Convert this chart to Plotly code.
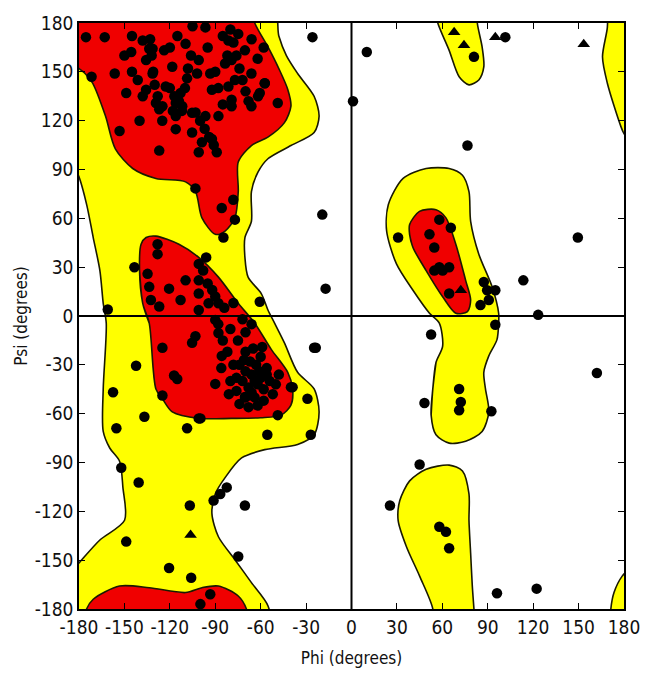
import plotly.graph_objects as go

# ---------------- region boundaries (phi, psi in degrees) ----------------
yellow_left_phi = [-190, -52, -48, -43, -35.6, -24.7, -21.4, -24.7, -40, -55.2, -61.7, -66.1, -66.1, -70.4, -70.4, -68.3, -59.6, -55.2, -50.8, -44.3, -35.6, -24.7, -21.4, -24.7, -35.6, -57.3, -72.6, -83.5, -90, -92.2, -87.9, -77, -66.1, -55.2, -54, -190, -190, -180, -166.2, -149.9, -151, -153.2, -159.7, -164, -164, -162, -164, -166.2, -170.6, -174.9, -180, -190]
yellow_left_psi = [190, 190, 172, 160, 149, 135, 122.8, 112.7, 104.7, 96.6, 88.5, 76.4, 58.2, 48.2, 36, 23.9, 13.8, 3.7, -4.4, -16.5, -34.6, -44.8, -58.9, -73, -79, -82.1, -87.2, -99.3, -109.3, -121.4, -135.6, -149.7, -163.8, -178, -190, -190, -162, -151.7, -137.6, -125.5, -105.3, -89.2, -81.1, -70.9, -44.8, -4.4, 7.8, 27.9, 48.2, 68.3, 85.5, 105]

red_beta_phi = [-190, -66, -63.9, -55, -48, -42.1, -40, -44.3, -55, -66.1, -74.8, -74.8, -77, -83.5, -90, -98.8, -103, -109.6, -129.2, -144.5, -156, -162.5, -171, -176, -180, -190]
red_beta_psi = [190, 190, 180, 165, 152, 139.2, 128.9, 118.8, 110, 104.7, 94.6, 76.4, 60.3, 52.2, 50.2, 60.3, 76.4, 82.4, 84.5, 90.6, 102.7, 122.8, 143, 149, 152, 160]

red_alpha_phi = [-133.6, -137.9, -140, -139, -135.7, -129.2, -114, -100.9, -87.9, -74.8, -63.9, -53, -42.1, -38.9, -40, -46.5, -60, -79.2, -100.9, -118.4, -124.9, -129.2]
red_alpha_psi = [-4.4, 7.8, 27.9, 44.1, 48.2, 49.1, 44.1, 36, 23.9, 7.8, -4.4, -20.5, -34.6, -44.8, -54.8, -60.9, -62.5, -62.9, -62.9, -58.9, -50.8, -44.8]

red_bottom_phi = [-177, -175, -170.6, -153.2, -133.6, -109.6, -98.8, -87.9, -74.8, -69.4, -68]
red_bottom_psi = [-190, -180, -174, -165.9, -166.9, -169.9, -166.9, -165.9, -172, -180, -190]

yellow_top_phi = [55, 57, 64.5, 71.1, 77.6, 84.1, 87.4, 86.3, 83.1, 83]
yellow_top_psi = [190, 180, 163.2, 147, 142, 145, 153, 165.2, 180, 190]

yellow_low_phi = [81, 53, 53.7, 45, 36.3, 30.8, 31.9, 38.4, 49.3, 64.5, 73.3, 77.6, 77.6, 78.7, 79.8, 80.9]
yellow_low_psi = [-190, -190, -180, -159.8, -141.7, -125.5, -113.4, -101.3, -94.2, -91.6, -95.2, -109.3, -125.5, -145.7, -165.9, -180]

yellow_lh_phi = [55.8, 53.7, 52.6, 55.8, 64.5, 75.4, 86.3, 90.7, 88.5, 87.4, 90.7, 96.1, 97.2, 97.2, 92.9, 84.1, 78.7, 77.6, 73.3, 64.5, 49.3, 34.1, 24.3, 23.2, 29.7, 40.6, 51.5, 58, 60.2]
yellow_lh_psi = [-28.6, -44.8, -60.9, -73, -78.1, -77, -71, -58.9, -44.8, -34.6, -24.5, -14.5, -4.4, 1.7, 17.9, 38, 58.2, 76.4, 86.5, 90.6, 90.6, 84.5, 68.3, 52.2, 32, 15.8, 1.7, -4.4, -18.5]

red_lh_phi = [49.3, 40.6, 38.4, 38.4, 44.9, 55.8, 62.4, 68.9, 75.4, 78.7, 76.6, 68.9, 60.2]
red_lh_psi = [27.9, 42.1, 50, 56.2, 64.3, 65.3, 60.3, 44.1, 21.9, 9.8, 2.7, 1.7, 11.8]

yellow_rtop_phi = [169, 169, 165.8, 169, 177.8, 180, 190, 190]
yellow_rtop_psi = [190, 177.3, 159.2, 143, 116.8, 112, 100, 190]

yellow_rbot_phi = [190, 178.8, 173.4, 171.3, 171, 190]
yellow_rbot_psi = [-150, -159.8, -169.9, -180, -190, -190]

# ---------------- residues ----------------
res_phi = [
    # beta region
    -175.4, -163, -171.7, -156.4, -148.8, -145.5, -137.9, -135.7, -141.2, -135.7, -131.4, -123.8, -118.4, -124.9,
    -116.1, -112.9, -109.6, -108.6, -102, -100.9, -96.5, -93.3, -81.3, -79.2, -74.8, -70.4, -77, -66.1, -61.7,
    -57.3, -48.7, -66.1, -79.2, -96.5, -87.9, -105.3, -116.1, -105.3, -98.8, -92.2, -89, -100.9, -127, -153.2,
    -137.9, -129.2, -122.7, -111.8, -116.1, -133.6, -131.4, -83.5, -81.3, -79.2, -92.2, -103.1, -85.7, -78.1,
    -77, -84.6, -60.6, -57.3,
    -133, -132, -131, -130, -128, -127, -125, -120, -117, -114, -112, -118, -110, -108, -106,
    -80, -78, -76, -74, -72, -70, -68, -85, -82, -100, -97, -94, -91, -103,
    -145, -150, -140, -120, -115, -95, -90, -88, -85, -62, -58, -66, -145, -105,
    # alpha region
    -128.1, -128.1, -143.4, -134.7, -133.6, -132.5, -127, -120.5, -112.9, -109.6, -100.9, -100.9, -100.9, -100.9,
    -94.4, -87.9, -90, -87.9, -103.1, -105.3, -124.9, -142.3, -117.2, -115.1, -90, -85.7, -124.9, -100.9, -136.8,
    -60.6, -38.9, -29.1, -48.7,
    -64, -62, -60, -66, -68, -58, -63, -67, -70, -72, -56, -60, -65, -70, -74, -76, -54, -52, -58, -64, -70, -76,
    -80, -78, -82, -75, -70, -66, -72, -80, -85, -88, -84, -78, -90, -95, -98, -96, -92, -62, -68, -74, -56, -50,
    -48, -61, -66, -71, -59, -81, -86,
    # lower left
    -157.5, -155.3, -108.6, -99.8, -70.4, -40, -55.6, -26.9, -23.6, -152.1, -140.6, -106.8, -91.1, -86.7, -82.4,
    -70.4, -148.8, -74.8, -120.5, -105.9, -93.3, -99.8, -161,
    # white / right side
    -25.8, -19.3, -17.1, -24.7,
    101.6, 80.9, 10.1, 1, 76.6, 149.5, 30.8, 58, 65.6, 51.5, 54.7, 58, 60.2, 64.5, 54.7, 64.5, 87.4, 89.6, 95,
    85.2, 90.7, 113.5, 123.3, 95, 52.6, 162.1, 48.2, 71.1, 72.2, 71.1, 92.4, 45, 25.4, 58, 62.4, 64.5, 96.1, 122.3,
]
res_psi = [
    171.3, 171.3, 147, 149, 137, 162.2, 169.3, 157.2, 145, 139, 149, 163.2, 153.1, 128.9,
    130.9, 137, 167.2, 146, 149, 157.2, 177.3, 149, 169.3, 157.2, 173.3, 163.2, 145, 149, 135,
    143, 130.9, 128.9, 128.9, 122.8, 122.8, 124.8, 114.8, 112.7, 106.7, 108.7, 100.6, 100.6, 101.6, 113.7,
    135, 130.9, 141, 128.9, 122.8, 164.2, 164.2, 155.1, 141, 132.9, 139, 78.4, 66.3, 71.4,
    59.2, 48.2, 137, 143,
    170, 160, 150, 142, 135, 127, 120, 140, 135, 132, 126, 126, 140, 152, 160,
    176, 168, 160, 152, 145, 138, 132, 172, 160, 120, 115, 110, 105, 125,
    150, 160, 120, 165, 172, 165, 150, 140, 130, 158, 165, 170, 172, 178,
    44.1, 38, 30, 25.9, 17.9, 9.8, 5.8, 16.8, 9.8, 21.9, 32, 21.9, 13.8, 3.7,
    7.8, 7.8, -2.4, -10.4, -12.4, -16.5, -19.5, -30.6, -36.6, -38.7, -41.7, -24.5, -48.8, -62.9, -61.9,
    8.8, -43.7, -50.8, -60.9,
    -40, -42, -38, -36, -44, -45, -30, -28, -34, -40, -32, -25, -20, -22, -30, -38, -40, -48, -52, -50, -50, -46,
    -40, -30, -22, -15, -10, -5, -2, -8, -15, -5, 5, 8, 12, 20, 28, 36, 16, -55, -56, -54, -36, -42,
    -36, -34, -47, -27, -19, -48, -32,
    -46.8, -69, -69, -62.9, -49.8, -43.7, -73, -73, -19.5, -93.2, -102.3, -116.4, -113.4, -109.3, -105.3,
    -116.4, -138.6, -147.7, -154.8, -160.8, -170.9, -177, 4,
    171.3, 62.3, 16.8, -19.5,
    171.3, 159.2, 162.2, 131.9, 104.7, 48.2, 48.2, 59.2, 54.2, 50.2, 42.1, 30, 27.9, 30, 27.9, 13.8, 20.9, 15.8, 15.8,
    6.7, 9.8, 21.9, 0.7, -5.4, -11.4, -35, -53.4, -44.8, -52.8, -57.9, -58.5, -91.2, -116.4, -129.5, -132.6, -142.7, -170.3, -167.5,
]

gly_phi = [67.8, 74.3, 95, 153.4, -106.3, 72.2]
gly_psi = [174.3, 166.3, 171.3, 166.9, -134.6, 15.8]

axis_ticks = [-180, -150, -120, -90, -60, -30, 0, 30, 60, 90, 120, 150, 180]

fig = go.Figure()

def region(xs, ys, color, closed_inside=False):
    # for regions fully inside the plot, wrap the first points round so the
    # smoothed outline closes without a kink
    if closed_inside:
        xs = list(xs) + list(xs[:3])
        ys = list(ys) + list(ys[:3])
    fig.add_trace(go.Scatter(
        x=xs, y=ys, mode="lines", fill="toself", fillcolor=color,
        line=dict(color="#1a1a00", width=1.6, shape="spline", smoothing=0.8),
        hoverinfo="skip", showlegend=False))

region(yellow_left_phi, yellow_left_psi, "#ffff00")
region(yellow_top_phi, yellow_top_psi, "#ffff00")
region(yellow_low_phi, yellow_low_psi, "#ffff00")
region(yellow_lh_phi, yellow_lh_psi, "#ffff00", closed_inside=True)
region(yellow_rtop_phi, yellow_rtop_psi, "#ffff00")
region(yellow_rbot_phi, yellow_rbot_psi, "#ffff00")
region(red_beta_phi, red_beta_psi, "#f00000")
region(red_alpha_phi, red_alpha_psi, "#f00000", closed_inside=True)
region(red_bottom_phi, red_bottom_psi, "#f00000")
region(red_lh_phi, red_lh_psi, "#f00000", closed_inside=True)

# zero lines
fig.add_trace(go.Scatter(x=[axis_ticks[0], axis_ticks[-1]], y=[0, 0], mode="lines",
                         line=dict(color="black", width=2), hoverinfo="skip", showlegend=False))
fig.add_trace(go.Scatter(x=[0, 0], y=[axis_ticks[0], axis_ticks[-1]], mode="lines",
                         line=dict(color="black", width=2), hoverinfo="skip", showlegend=False))

fig.add_trace(go.Scatter(x=res_phi, y=res_psi, mode="markers",
                         marker=dict(symbol="circle", size=10.5, color="black"), showlegend=False))
fig.add_trace(go.Scatter(x=gly_phi, y=gly_psi, mode="markers",
                         marker=dict(symbol="triangle-up", size=11, color="black"), showlegend=False))

font_family = "Liberation Sans Narrow, DejaVu Sans Condensed, Liberation Sans, sans-serif"
axis_common = dict(
    range=[-180, 180], tickvals=axis_ticks, ticktext=[str(t) for t in axis_ticks],
    ticks="inside", ticklen=6, tickcolor="black", tickwidth=1,
    showline=True, linecolor="black", linewidth=1.5, mirror="ticks",
    showgrid=False, zeroline=False,
    tickfont=dict(family=font_family, size=19, color="#111"),
)
fig.update_xaxes(**axis_common, title=dict(text="Phi (degrees)", font=dict(family=font_family, size=17, color="#111"), standoff=16))
fig.update_yaxes(**axis_common, title=dict(text="Psi (degrees)", font=dict(family=font_family, size=17, color="#111"), standoff=3))

fig.update_layout(
    width=652, height=677,
    margin=dict(l=79, r=22, t=16, b=67),
    paper_bgcolor="white", plot_bgcolor="white",
    font=dict(family=font_family),
)

fig.write_html("out.html")
